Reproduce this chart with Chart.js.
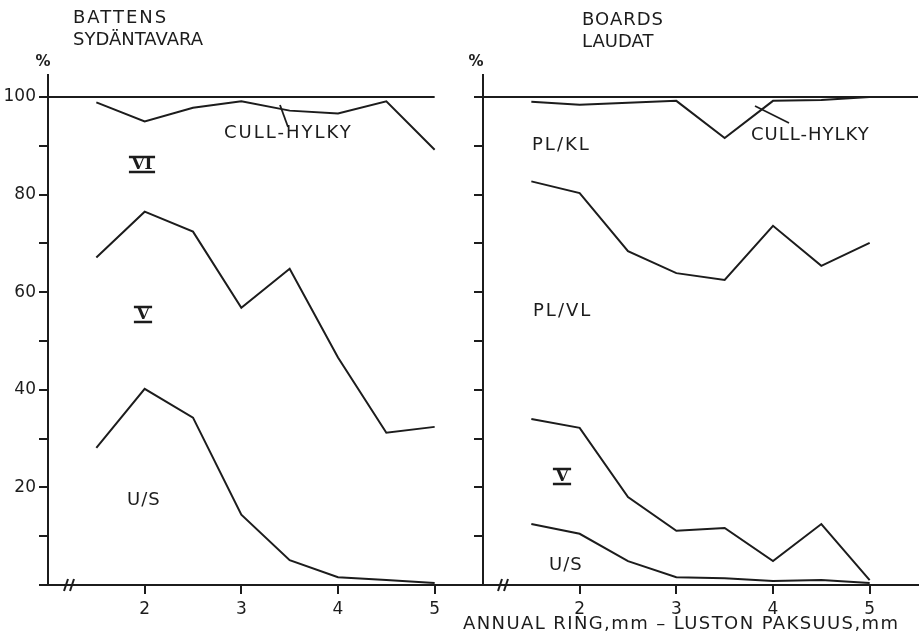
<!DOCTYPE html>
<html>
<head>
<meta charset="utf-8">
<script src="https://cdn.jsdelivr.net/npm/chart.js@4.4.1/dist/chart.umd.min.js"></script>
<style>
body { margin: 0; background: #fff; }
#wrap { position: relative; width: 922px; height: 641px; }
#graficoBattens { position: absolute; left: 0; top: 0; }
#graficoBoards { position: absolute; left: 440px; top: 0; }
</style>
</head>
<body>
<div id="wrap">
  <canvas id="graficoBattens" width="484" height="641"></canvas>
  <canvas id="graficoBoards" width="482" height="641"></canvas>
</div>
<script>
// annual ring thickness, mm
const aneis = [1.5, 2, 2.5, 3, 3.5, 4, 4.5, 5];
const xTicks = [2, 3, 4, 5];
const yRotulos = [20, 40, 60, 80, 100];

// battens (sydäntavara), cumulative %
const battensCull = [98.9, 95.0, 97.8, 99.1, 97.2, 96.6, 99.1, 89.2];
const battensV = [67.1, 76.5, 72.4, 56.8, 64.8, 46.6, 31.2, 32.4];
const battensUS = [28.1, 40.2, 34.3, 14.4, 5.1, 1.6, 1.0, 0.4];

// boards (laudat), cumulative %
const boardsCull = [99.0, 98.4, 98.8, 99.2, 91.6, 99.2, 99.4, 100];
const boardsVL = [82.7, 80.3, 68.4, 63.9, 62.5, 73.6, 65.4, 70.1];
const boardsV = [34.0, 32.2, 18.0, 11.1, 11.7, 4.9, 12.5, 1.0];
const boardsUS = [12.5, 10.5, 4.9, 1.6, 1.4, 0.8, 1.0, 0.4];

// the 100 % line
const topoBattensX = [1, 5];
const topoBoardsX = [1, 5.5];
const topoY = 100;

const cor = '#1c1c1c';

const notas = {
    id: 'notas',
    afterDraw(chart, args, opts) {
        const ctx = chart.ctx;
        ctx.save();
        ctx.fillStyle = cor;
        ctx.strokeStyle = cor;
        ctx.textBaseline = 'middle';
        (opts.textos || []).forEach(t => {
            ctx.font = t.font || '18px "DejaVu Sans"';
            ctx.letterSpacing = t.esp || '0px';
            ctx.textAlign = t.align || 'left';
            ctx.fillText(t.txt, t.x, t.y);
        });
        ctx.letterSpacing = '0px';
        (opts.romanos || []).forEach(r => {
            ctx.font = 'bold 17px "DejaVu Serif"';
            ctx.textAlign = 'center';
            ctx.fillText(r.txt, r.x, r.y + 1);
            const w = ctx.measureText(r.txt).width + 5;
            ctx.lineWidth = 2.4;
            ctx.beginPath();
            ctx.moveTo(r.x - w / 2, r.y - 7); ctx.lineTo(r.x + w / 2, r.y - 7);
            ctx.moveTo(r.x - w / 2, r.y + 8); ctx.lineTo(r.x + w / 2, r.y + 8);
            ctx.stroke();
        });
        ctx.lineWidth = 1.8;
        (opts.linhas || []).forEach(l => {
            ctx.beginPath();
            ctx.moveTo(l[0], l[1]);
            ctx.lineTo(l[2], l[3]);
            ctx.stroke();
        });
        // axis break marks
        const yb = chart.chartArea.bottom;
        ctx.lineWidth = 2;
        (opts.quebras || []).forEach(x => {
            [0, 6].forEach(d => {
                ctx.beginPath();
                ctx.moveTo(x + d - 2, yb + 6);
                ctx.lineTo(x + d + 2, yb - 6);
                ctx.stroke();
            });
        });
        ctx.restore();
    }
};

function serie(ys, xs) {
    return {
        data: ys.map((y, i) => ({ x: (xs || aneis)[i], y })),
        borderColor: cor,
        borderWidth: 2,
        pointRadius: 0,
        tension: 0,
        fill: false
    };
}

function criarGrafico(canvas, series, topoX, comRotulos, padDir, plugOpts) {
    const datasets = series.map(s => serie(s));
    datasets.push(serie(topoX.map(() => topoY), topoX));
    return new Chart(canvas, {
        type: 'line',
        data: { datasets },
        plugins: [notas],
        options: {
            responsive: false,
            animation: false,
            layout: { padding: { top: 75, right: padDir, left: 0, bottom: 0 } },
            plugins: {
                legend: { display: false },
                tooltip: { enabled: false },
                notas: plugOpts
            },
            scales: {
                x: {
                    type: 'linear',
                    min: 1,
                    max: 5.5,
                    afterBuildTicks: s => { s.ticks = xTicks.map(v => ({ value: v })); },
                    afterFit: s => { s.height = 56; },
                    ticks: {
                        color: cor,
                        padding: 5,
                        font: { family: 'DejaVu Sans', size: 17 },
                        callback: v => String(v)
                    },
                    grid: { drawOnChartArea: false, drawTicks: true, tickLength: 9, color: cor, lineWidth: 2 },
                    border: { display: true, color: cor, width: 2 }
                },
                y: {
                    type: 'linear',
                    min: 0,
                    max: 104.5,
                    afterBuildTicks: s => { s.ticks = s.ticks.filter(t => t.value % 10 === 0); },
                    afterFit: s => { s.width = comRotulos ? 48 : 43; },
                    ticks: {
                        stepSize: 10,
                        color: cor,
                        padding: 3,
                        font: { family: 'DejaVu Sans', size: 17 },
                        callback: v => (comRotulos && yRotulos.includes(v)) ? String(v) : ''
                    },
                    grid: { drawOnChartArea: false, drawTicks: true, tickLength: 9, color: cor, lineWidth: 2 },
                    border: { display: true, color: cor, width: 2 }
                }
            }
        }
    });
}

const graficoBattens = criarGrafico(
    document.getElementById('graficoBattens'),
    [battensCull, battensV, battensUS], topoBattensX, true, 1,
    {
        textos: [
            { txt: 'BATTENS', x: 73, y: 18, esp: '2px' },
            { txt: 'SYDÄNTAVARA', x: 73, y: 40 },
            { txt: '%', x: 43, y: 62, align: 'center', font: 'bold 15px "DejaVu Sans"' },
            { txt: 'CULL-HYLKY', x: 224, y: 133, esp: '2px' },
            { txt: 'U/S', x: 127, y: 500, esp: '1px' }
        ],
        romanos: [
            { txt: 'VI', x: 142, y: 164 },
            { txt: 'V', x: 143, y: 314 }
        ],
        linhas: [[280, 105, 288, 127]],
        quebras: [66]
    }
);

const graficoBoards = criarGrafico(
    document.getElementById('graficoBoards'),
    [boardsCull, boardsVL, boardsV, boardsUS], topoBoardsX, false, 4,
    {
        textos: [
            { txt: 'BOARDS', x: 142, y: 20, esp: '1px' },
            { txt: 'LAUDAT', x: 142, y: 42 },
            { txt: '%', x: 36, y: 62, align: 'center', font: 'bold 15px "DejaVu Sans"' },
            { txt: 'PL/KL', x: 92, y: 145, esp: '2px' },
            { txt: 'CULL-HYLKY', x: 311, y: 135, esp: '1px' },
            { txt: 'PL/VL', x: 93, y: 311, esp: '2px' },
            { txt: 'U/S', x: 109, y: 565, esp: '1px' },
            { txt: 'ANNUAL RING,mm – LUSTON PAKSUUS,mm', x: 23, y: 624, esp: '1.4px' }
        ],
        romanos: [
            { txt: 'V', x: 122, y: 476 }
        ],
        linhas: [[315, 106, 349, 123]],
        quebras: [60]
    }
);
</script>
</body>
</html>
